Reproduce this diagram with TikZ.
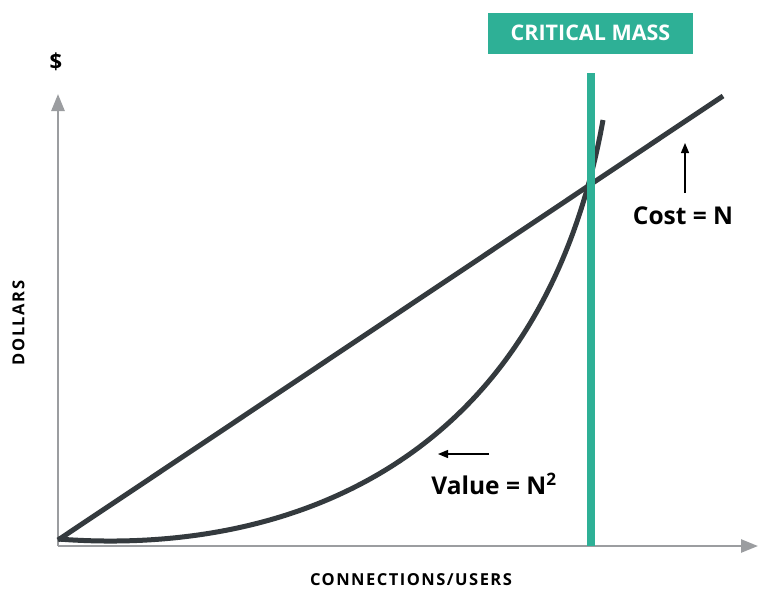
\documentclass[tikz,border=0pt]{standalone}
\usepackage{fontspec}
\setmainfont{Open Sans}
\usetikzlibrary{positioning,arrows.meta}
\definecolor{massgreen}{RGB}{46,176,150}
\definecolor{plotcol}{RGB}{52,58,62}
\definecolor{axiscol}{RGB}{155,157,160}
\begin{document}
\begin{tikzpicture}[x=1pt,y=-1pt,>=Latex,line join=bevel,
  axisline/.style={draw=axiscol,line width=2.6pt,-{Triangle[length=17pt,width=13pt]}},
  plotline/.style={draw=plotcol,line width=5pt},
  pointer/.style={line width=1.3pt,-{Triangle[length=10pt,width=8pt]}},
  lbl/.style={inner sep=0pt,font=\bfseries\fontsize{24.5}{26}\selectfont},
  axislbl/.style={inner sep=0pt,font=\bfseries\fontsize{16.5}{18}\selectfont\addfontfeature{LetterSpace=9}}]
  \useasboundingbox (0,0) rectangle (759,590);
%%
  % Node: origin and axis ends
  \coordinate (origin) at (58,546);
  \coordinate (ytip) at (58,94);
  \coordinate (xtip) at (758,546);
  % Edge: origin -> ytip
  \draw [axisline] (origin) -- (ytip);
  % Edge: origin -> xtip
  \draw [axisline] (origin) -- (xtip);
  % Node: axis labels
  \node [lbl,font=\bfseries\fontsize{22}{24}\selectfont] (dollar) at (56,62) {\$};
  \node [axislbl,rotate=90] (dollars) at (18.5,323) {DOLLARS};
  \node [axislbl,anchor=base] (users) at (411,585.5) {CONNECTIONS/USERS};
%
  % Edge: cost = N
  \coordinate (coststart) at (58,540);
  \coordinate (costend) at (723,96);
  \draw [plotline] (coststart) -- (costend);
  % Edge: value = N^2
  \coordinate (valuestart) at (58,539);
  \coordinate (valueend) at (603,120);
  \draw [plotline] (valuestart) .. controls (280,556) and (540,470) .. (valueend);
%
  % Node: critical mass
  \coordinate (masstop) at (591,73);
  \coordinate (massbottom) at (591,546);
  \draw [massgreen,line width=8pt] (masstop) -- (massbottom);
  \node [fill=massgreen,text=white,minimum width=205pt,minimum height=41pt,inner sep=0pt,
    font=\bfseries\fontsize{21.5}{23}\selectfont] (critmass) at (590.5,33) {CRITICAL MASS};
%
  % Node: cost label
  \node [lbl] (costlbl) at (683,216) {Cost = N};
  \coordinate (costtip) at (685,143);
  \draw [pointer] (685,193) -- (costtip);
  % Node: value label
  \node [lbl] (valuelbl) at (494,484) {Value = N\textsuperscript{2}};
  \coordinate (valuetip) at (438,454);
  \draw [pointer] (489,454) -- (valuetip);
%
\end{tikzpicture}
\end{document}
